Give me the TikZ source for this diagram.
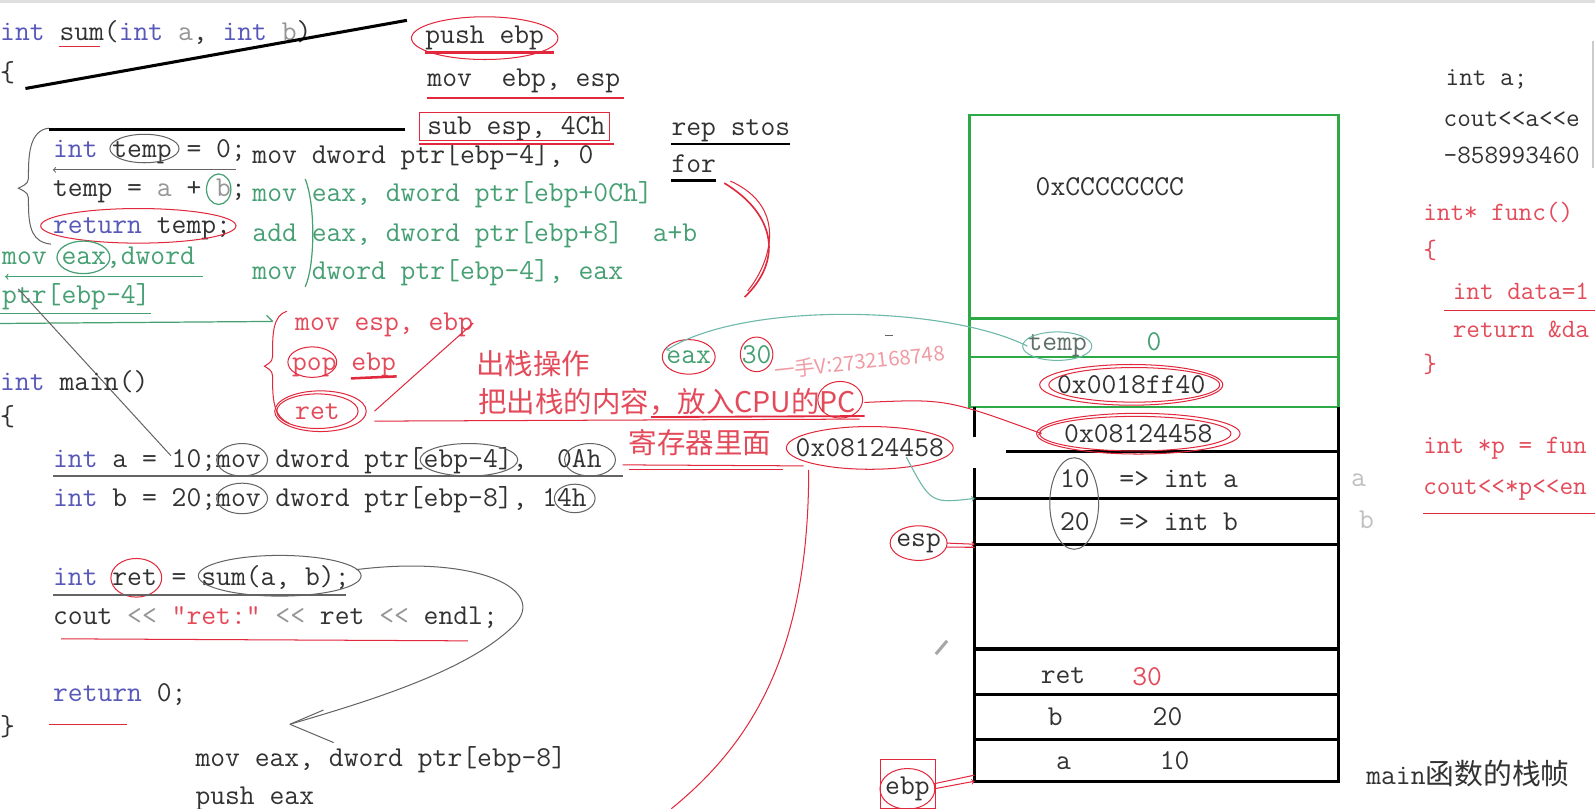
\documentclass[tikz,border=0pt]{standalone}
\usepackage{fontspec}
\newfontfamily\cjk{Noto Sans CJK SC}
\usepackage{tikz}
\usetikzlibrary{positioning,arrows}
\definecolor{kwblue}{RGB}{88,88,185}
\definecolor{srcdark}{RGB}{50,50,50}
\definecolor{srcfaint}{RGB}{150,150,150}
\definecolor{asmgreen}{RGB}{70,160,115}
\definecolor{inkred}{RGB}{225,40,60}
\definecolor{txtred}{RGB}{228,75,90}
\definecolor{boxgreen}{RGB}{45,170,70}
\definecolor{inkgray}{RGB}{100,100,100}
\definecolor{inkteal}{RGB}{110,185,170}
\newcommand{\codesz}{\fontsize{28.3}{30}\selectfont\ttfamily}
\newcommand{\sidesz}{\fontsize{26}{28}\selectfont\ttfamily}

\begin{document}
\begin{tikzpicture}[x=1pt, y=-1pt, >=to]
\tikzstyle{src}=[anchor=base west, inner sep=0pt, font=\codesz, text=srcdark]
\tikzstyle{asm}=[src, text=asmgreen]
\tikzstyle{hot}=[src, text=txtred]
\tikzstyle{side}=[src, font=\sidesz]
\tikzstyle{zh}=[anchor=base west, inner sep=0pt,
                font=\fontsize{28}{30}\selectfont\cjk, text=txtred]
\tikzstyle{blk}=[line width=3pt, black]
\tikzstyle{redpen}=[inkred, line width=2.5pt]
\tikzstyle{redthin}=[inkred, line width=1pt]
\tikzstyle{graythin}=[inkgray, line width=1pt]
\tikzstyle{greenthin}=[asmgreen, line width=1.2pt]
\tikzstyle{cell}=[draw=black, line width=3pt, minimum width=358pt,
                  inner sep=0pt, outer sep=0pt, anchor=north]
\tikzstyle{gcell}=[cell, draw=boxgreen, line width=2.5pt, minimum width=363pt]

\useasboundingbox (0,0) rectangle (1568,795);
\fill[white] (0,0) rectangle (1568,795);
\clip (0,0) rectangle (1568,795);
\fill[gray!25] (0,0) rectangle (1568,3);

% sum()
\node[src] (sumsig) at (0,40) {{\color{kwblue}int} sum({\color{kwblue}int} {\color{srcfaint}a}, {\color{kwblue}int} {\color{srcfaint}b})};
\node[src] (sumopen) at (0,80) {\{};
\node[src] (pushebp) at (418,43) {push ebp};
\node[src] (movebp) at (420,85) {mov\ \ ebp, esp};
\node[src] (subesp) at (420,132) {sub esp, 4Ch};
\node[src] (repstos) at (660,133) {rep stos};
\node[src] (forloop) at (660,170) {for};
\node[src] (tempinit) at (52,155) {{\color{kwblue}int} temp = 0;};
\node[src] (asminit) at (248,161) {mov dword ptr[ebp-4], 0};
\node[src] (tempadd) at (52,193) {temp = {\color{srcfaint}a} + {\color{srcfaint}b};};
\node[asm] (asmload) at (248,198) {mov eax, dword ptr[ebp+0Ch]};
\node[src] (rettemp) at (52,230) {{\color{kwblue}return} temp;};
\node[asm] (asmadd) at (248,237) {add eax, dword ptr[ebp+8]\ \ a+b};
\node[asm] (asmstore) at (248,275) {mov dword ptr[ebp-4], eax};
\node[asm] (retmov1) at (2,260) {mov eax,dword};
\node[asm] (retmov2) at (2,298) {ptr[ebp-4]};

\draw[blk] (25,87) -- (400,20);
\draw[blk] (48,127) -- (398,127);
\draw[inkred, line width=0.8pt] (58,46) -- (98,46);
\draw[redthin] (pushebp.center) ellipse [x radius=72, y radius=21];
\draw[redpen] ([yshift=-2pt]pushebp.south west) -- ([yshift=-2pt,xshift=10pt]pushebp.south east);
\draw[redpen] ([yshift=-5pt]movebp.south west) -- ([yshift=-5pt,xshift=4pt]movebp.south east);
\draw[redthin] ([xshift=-8pt,yshift=4pt]subesp.north west) rectangle ([xshift=4pt]subesp.south east);
\draw[redpen] ([xshift=-8pt,yshift=-3pt]subesp.south west) -- ([xshift=8pt,yshift=-3pt]subesp.south east);
\draw[line width=2.5pt] ([yshift=-2pt]repstos.south west) -- ([yshift=-2pt]repstos.south east);
\draw[line width=2.5pt] ([yshift=-7pt]forloop.south west) -- ([yshift=-7pt]forloop.south east);
\draw[inkred, line width=1.6pt] (712,180) .. controls (765,212) and (768,258) .. (732,292);
\draw[inkred, line width=1pt] (718,178) .. controls (778,205) and (755,262) .. (735,286);

\draw[graythin] (48,126) .. controls (30,128) and (28,150) .. (28,170) .. controls (28,180) .. (18,185)
  .. controls (28,190) .. (28,200) .. controls (28,225) and (32,238) .. (50,240);
\draw[graythin] (142,146) ellipse [x radius=34, y radius=14];
\draw[graythin, <-] (52,167) -- (232,167);
\draw[greenthin] (215,186) ellipse [x radius=12, y radius=15];
\draw[redthin] (136,222) ellipse [x radius=96, y radius=17];
\draw[greenthin] (82,253) ellipse [x radius=26, y radius=16];
\draw[greenthin] (300,176) .. controls (310,200) and (310,260) .. (300,282);
\draw[greenthin, <-] (5,272) -- (200,272);
\draw[greenthin] (0,308) -- (148,308);
\draw[greenthin] (0,318) -- (268,316);
\draw[greenthin] (262,310) -- (268,316);
\draw[graythin] (18,284) -- (168,448);

% epilogue
\node[hot] (movesp) at (290,325) {mov esp, ebp};
\node[hot] (popebp) at (287,364) {pop ebp};
\node[hot] (retins) at (290,412) {ret};
\node[zh] (popnote) at (468,368) {出栈操作};
\node[zh] (pcnote) at (470,406) {把出栈的内容，放入CPU的PC};
\node[zh] (regnote) at (618,446) {寄存器里面};
\node[src] (retaddr) at (782,449) {0x08124458};
\node[asm] (eaxreg) at (655,357) {eax};
\node[asm] (eaxval) at (729,357) {30};
\node[anchor=base west, inner sep=0pt, rotate=6, text=txtred!55,
      font=\fontsize{20}{22}\selectfont\cjk] (wm) at (762,372) {一手V:2732168748};

\draw[redthin] (282,306) .. controls (268,310) and (268,330) .. (268,345) .. controls (268,355) .. (260,360)
  .. controls (268,365) .. (268,375) .. controls (268,395) and (270,410) .. (284,416);
\draw[redthin] (307,356) ellipse [x radius=24, y radius=15];
\draw[redpen] (345,372) -- (390,370);
\draw[redthin] (retins.center) ellipse [x radius=40, y radius=17];
\draw[redthin] ([xshift=3pt]retins.center) ellipse [x radius=45, y radius=20];
\draw[redthin] ([xshift=34pt]retins.east) -- ([yshift=2pt]movesp.east);
\draw[redthin] (368,414) -- (845,412);
\draw[inkred, line width=1.8pt] (640,410) -- (850,409);
\draw[redthin] (826,393) ellipse [x radius=22, y radius=18];
\draw[redthin] (612,457) -- (790,458);
\draw[redthin] (618,462) -- (770,462);
\draw[redthin] (retaddr.center) ellipse [x radius=82, y radius=21];
\draw[redthin] (eaxreg.center) ellipse [x radius=26, y radius=17];
\draw[redthin] (eaxval.center) ellipse [x radius=16, y radius=17];
\draw[redthin] (795,462) .. controls (795,640) and (740,730) .. (660,795);

% main()
\node[src] (mainsig) at (0,384) {{\color{kwblue}int} main()};
\node[src] (mainopen) at (0,418) {\{};
\node[src] (linea) at (52,460) {{\color{kwblue}int} a = 10;mov dword ptr[ebp-4],\ \ 0Ah};
\node[src] (lineb) at (52,498) {{\color{kwblue}int} b = 20;mov dword ptr[ebp-8], 14h};
\node[src] (lineret) at (52,576) {{\color{kwblue}int} ret = sum(a, b);};
\node[src] (linecout) at (52,614) {cout {\color{srcfaint}<<} {\color{txtred}"ret:"} {\color{srcfaint}<<} ret {\color{srcfaint}<<} endl;};
\node[src] (ret0) at (52,690) {{\color{kwblue}return} 0;};
\node[src] (mainclose) at (0,723) {\}};
\node[src] (argb) at (192,754) {mov eax, dword ptr[ebp-8]};
\node[src] (pusheax) at (192,791) {push eax};

\draw[graythin] (238,452) ellipse [x radius=25, y radius=16];
\draw[graythin] (461,452) ellipse [x radius=48, y radius=16];
\draw[graythin] (580,452) ellipse [x radius=25, y radius=16];
\draw[graythin] (238,490) ellipse [x radius=25, y radius=15];
\draw[graythin] (565,490) ellipse [x radius=20, y radius=14];
\draw[inkgray, line width=1.2pt] (52,468) -- (612,468);
\draw[redthin] (134,568) ellipse [x radius=25, y radius=19];
\draw[graythin] (275,566) ellipse [x radius=80, y radius=20];
\draw[inkgray, line width=1.2pt] (52,585) -- (340,585);
\draw[graythin] (350,560) .. controls (470,545) and (540,580) .. (505,615)
  .. controls (460,660) and (360,690) .. (285,712);
\draw[graythin] (285,712) -- (318,698);
\draw[graythin] (285,712) -- (328,730);
\draw[redthin] (60,628) -- (460,630);
\draw[redthin] (48,712) -- (125,712);

% right column
\node[side] (inta) at (1421,84) {int a;};
\node[side] (couta) at (1419,124) {cout<<a<<e};
\node[side] (garbage) at (1419,161) {-858993460};
\node[side, text=txtred] (funcsig) at (1399,217) {int* func()};
\node[side, text=txtred] (funcopen) at (1399,254) {\{};
\node[side, text=txtred] (funcdata) at (1428,294) {int data=1};
\node[side, text=txtred] (funcret) at (1428,332) {return \&da};
\node[side, text=txtred] (funcclose) at (1399,366) {\}};
\node[side, text=txtred] (callp) at (1399,446) {int *p = fun};
\node[side, text=txtred] (coutp) at (1399,486) {cout<<*p<<en};
\draw[redthin] (1420,305) -- (1568,305);
\draw[redthin] (1399,505) -- (1568,505);
\draw[gray!40, line width=1.5pt] (1566,40) -- (1566,165);

% stack
\node[gcell, minimum height=200pt] (frame) at (1134.5,113) {};
\node[gcell, minimum height=38pt, below=0pt of frame] (tempslot) {};
\node[gcell, minimum height=49pt, below=0pt of tempslot] (ebpslot) {};
\node[cell, draw=none, minimum height=44pt] (retslot) at (1137,400) {};
\node[cell, draw=none, minimum height=46pt, below=0pt of retslot] (aslot) {};
\node[cell, minimum height=45pt, below=0pt of aslot] (bslot) {};
\node[cell, minimum height=103pt, below=0pt of bslot] (freeslot) {};
\node[cell, minimum height=45pt, below=0pt of freeslot] (retvar) {};
\node[cell, minimum height=44pt, below=0pt of retvar] (bvar) {};
\node[cell, minimum height=41pt, below=0pt of bvar] (avar) {};
\draw[blk] (retslot.north east) -- (aslot.south east);
\draw[blk] (retslot.north west) -- ++(0,30);
\draw[blk] ([yshift=-16pt]aslot.north west) -- (aslot.south west) -- (aslot.south east);
\draw[blk] ([xshift=31pt]aslot.north west) -- (aslot.north east);

\node[src] (ccfill) at (1018,192) {0xCCCCCCCC};
\node[src, text=inkgray!80!asmgreen] (tempname) at (1010,345) {temp};
\node[asm] (tempval) at (1127,345) {0};
\node[src] (oldebp) at (1039,387) {0x0018ff40};
\node[src] (retback) at (1046,435) {0x08124458};
\node[src] (aval) at (1042,479) {10\ \ => int a};
\node[src] (bval) at (1042,522) {20\ \ => int b};
\node[src] (retname) at (1023,672) {ret};
\node[hot] (retnum) at (1113,674) {30};
\node[src] (bname) at (1030,713) {b};
\node[src] (bnum) at (1133,713) {20};
\node[src] (aname) at (1038,756) {a};
\node[src] (anum) at (1140,756) {10};
\node[src] (framenote) at (1343,771) {main{\cjk 函数的栈帧}};
\node[src] (espreg) at (881,537) {esp};
\node[src] (ebpreg) at (870,781) {ebp};
\node[src, text=srcfaint!60] (hinta) at (1328,478) {a};
\node[src, text=srcfaint!60] (hintb) at (1336,520) {b};

\draw[redthin] (oldebp.center) ellipse [x radius=90, y radius=20];
\draw[redthin] ([xshift=3pt]oldebp.center) ellipse [x radius=84, y radius=17];
\draw[redthin] (retback.center) ellipse [x radius=100, y radius=20];
\draw[redthin] ([xshift=-3pt]retback.center) ellipse [x radius=94, y radius=17];
\draw[inkteal, line width=1pt] (tempname.center) ellipse [x radius=34, y radius=14];
\draw[graythin] (1056,495) ellipse [x radius=24, y radius=45];
\draw[redthin] (espreg.center) ellipse [x radius=28, y radius=17];
\draw[redthin] (ebpreg.center) ellipse [x radius=27, y radius=20];
\draw[redthin] (866,747) rectangle (920,795);
\draw[redthin, ->] ([xshift=6pt]espreg.east) -- (bslot.south west);
\draw[redthin] ([xshift=6pt,yshift=-4pt]espreg.east) -- ([yshift=-3pt]bslot.south west);
\draw[redthin, ->] ([xshift=4pt]ebpreg.east) -- (avar.south west);
\draw[redthin] ([xshift=4pt,yshift=5pt]ebpreg.east) -- ([yshift=6pt]avar.south west);
\draw[redthin, ->] ([xshift=8pt]pcnote.east) .. controls (930,392) .. ([xshift=-22pt]retback.west);
\draw[inkteal, line width=1.1pt, ->] (tempname.west) .. controls (930,300) and (730,296) .. (eaxreg.north west);
\draw[inkteal, line width=1.1pt, ->] ([xshift=36pt]retaddr.south) .. controls (915,495) .. (aslot.south west);
\draw[gray!70, line width=3pt] (920,643) -- (931,630);
\draw[inkgray] (870,330) -- (878,330);
\end{tikzpicture}
\end{document}
